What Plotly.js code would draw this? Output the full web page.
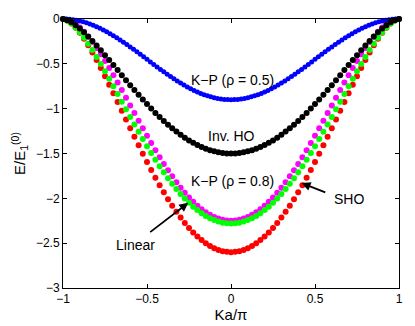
<!DOCTYPE html>
<html>
<head>
<meta charset="utf-8">
<script src="https://cdn.plot.ly/plotly-3.0.1.min.js"></script>
<style>html,body{margin:0;padding:0;background:#fff;}#chart{width:415px;height:326px;}</style>
</head>
<body>
<div id="chart"></div>
<script>
// x grid (Ka/pi)
var kaX = [-1,-0.975,-0.95,-0.925,-0.9,-0.875,-0.85,-0.825,-0.8,-0.775,-0.75,-0.725,-0.7,-0.675,-0.65,-0.625,-0.6,-0.575,-0.55,-0.525,-0.5,-0.475,-0.45,-0.425,-0.4,-0.375,-0.35,-0.325,-0.3,-0.275,-0.25,-0.225,-0.2,-0.175,-0.15,-0.125,-0.1,-0.075,-0.05,-0.025,0,0.025,0.05,0.075,0.1,0.125,0.15,0.175,0.2,0.225,0.25,0.275,0.3,0.325,0.35,0.375,0.4,0.425,0.45,0.475,0.5,0.525,0.55,0.575,0.6,0.625,0.65,0.675,0.7,0.725,0.75,0.775,0.8,0.825,0.85,0.875,0.9,0.925,0.95,0.975,1];
var kaXBlue = [-1,-0.98,-0.96,-0.94,-0.92,-0.9,-0.88,-0.86,-0.84,-0.82,-0.8,-0.78,-0.76,-0.74,-0.72,-0.7,-0.68,-0.66,-0.64,-0.62,-0.6,-0.58,-0.56,-0.54,-0.52,-0.5,-0.48,-0.46,-0.44,-0.42,-0.4,-0.38,-0.36,-0.34,-0.32,-0.3,-0.28,-0.26,-0.24,-0.22,-0.2,-0.18,-0.16,-0.14,-0.12,-0.1,-0.08,-0.06,-0.04,-0.02,0,0.02,0.04,0.06,0.08,0.1,0.12,0.14,0.16,0.18,0.2,0.22,0.24,0.26,0.28,0.3,0.32,0.34,0.36,0.38,0.4,0.42,0.44,0.46,0.48,0.5,0.52,0.54,0.56,0.58,0.6,0.62,0.64,0.66,0.68,0.7,0.72,0.74,0.76,0.78,0.8,0.82,0.84,0.86,0.88,0.9,0.92,0.94,0.96,0.98,1];

// K-P (rho = 0.5)
var kp05 = [0,-0.0009,-0.0035,-0.0080,-0.0141,-0.0220,-0.0316,-0.0428,-0.0557,-0.0701,-0.0859,-0.1033,-0.1220,-0.1420,-0.1632,-0.1855,-0.2089,-0.2332,-0.2584,-0.2843,-0.3109,-0.3381,-0.3657,-0.3936,-0.4217,-0.45,-0.4783,-0.5064,-0.5343,-0.5619,-0.5891,-0.6157,-0.6416,-0.6668,-0.6911,-0.7145,-0.7368,-0.7580,-0.7780,-0.7967,-0.8141,-0.8299,-0.8443,-0.8572,-0.8684,-0.8780,-0.8859,-0.8920,-0.8965,-0.8991,-0.9,-0.8991,-0.8965,-0.8920,-0.8859,-0.8780,-0.8684,-0.8572,-0.8443,-0.8299,-0.8141,-0.7967,-0.7780,-0.7580,-0.7368,-0.7145,-0.6911,-0.6668,-0.6416,-0.6157,-0.5891,-0.5619,-0.5343,-0.5064,-0.4783,-0.45,-0.4217,-0.3936,-0.3657,-0.3381,-0.3109,-0.2843,-0.2584,-0.2332,-0.2089,-0.1855,-0.1632,-0.1420,-0.1220,-0.1033,-0.0859,-0.0701,-0.0557,-0.0428,-0.0316,-0.0220,-0.0141,-0.0080,-0.0035,-0.0009,0];

// Inverted HO
var invHO = [0,-0.013,-0.037,-0.069,-0.107,-0.149,-0.195,-0.244,-0.296,-0.349,-0.403,-0.458,-0.514,-0.570,-0.627,-0.682,-0.738,-0.792,-0.846,-0.898,-0.949,-0.999,-1.047,-1.093,-1.137,-1.179,-1.219,-1.256,-1.291,-1.324,-1.354,-1.381,-1.406,-1.428,-1.447,-1.463,-1.476,-1.487,-1.494,-1.499,-1.5,-1.499,-1.494,-1.487,-1.476,-1.463,-1.447,-1.428,-1.406,-1.381,-1.354,-1.324,-1.291,-1.256,-1.219,-1.179,-1.137,-1.093,-1.047,-0.999,-0.949,-0.898,-0.846,-0.792,-0.738,-0.682,-0.627,-0.570,-0.514,-0.458,-0.403,-0.349,-0.296,-0.244,-0.195,-0.149,-0.107,-0.069,-0.037,-0.013,0];

// K-P (rho = 0.8)
var kp08 = [0,-0.016,-0.049,-0.094,-0.147,-0.208,-0.275,-0.347,-0.423,-0.501,-0.583,-0.666,-0.751,-0.836,-0.922,-1.007,-1.092,-1.176,-1.258,-1.339,-1.418,-1.495,-1.570,-1.641,-1.710,-1.776,-1.838,-1.896,-1.951,-2.003,-2.050,-2.093,-2.131,-2.166,-2.196,-2.222,-2.243,-2.259,-2.271,-2.278,-2.28,-2.278,-2.271,-2.259,-2.243,-2.222,-2.196,-2.166,-2.131,-2.093,-2.050,-2.003,-1.951,-1.896,-1.838,-1.776,-1.710,-1.641,-1.570,-1.495,-1.418,-1.339,-1.258,-1.176,-1.092,-1.007,-0.922,-0.836,-0.751,-0.666,-0.583,-0.501,-0.423,-0.347,-0.275,-0.208,-0.147,-0.094,-0.049,-0.016,0];

// Linear
var linear = [0,-0.007,-0.027,-0.057,-0.096,-0.143,-0.197,-0.257,-0.323,-0.393,-0.468,-0.546,-0.626,-0.709,-0.793,-0.878,-0.964,-1.049,-1.135,-1.219,-1.303,-1.384,-1.464,-1.541,-1.616,-1.687,-1.755,-1.820,-1.881,-1.938,-1.990,-2.039,-2.082,-2.121,-2.155,-2.184,-2.207,-2.226,-2.239,-2.247,-2.25,-2.247,-2.239,-2.226,-2.207,-2.184,-2.155,-2.121,-2.082,-2.039,-1.990,-1.938,-1.881,-1.820,-1.755,-1.687,-1.616,-1.541,-1.464,-1.384,-1.303,-1.219,-1.135,-1.049,-0.964,-0.878,-0.793,-0.709,-0.626,-0.546,-0.468,-0.393,-0.323,-0.257,-0.197,-0.143,-0.096,-0.057,-0.027,-0.007,0];

// SHO
var sho = [0,-0.016,-0.050,-0.097,-0.154,-0.221,-0.294,-0.373,-0.458,-0.546,-0.638,-0.732,-0.828,-0.925,-1.022,-1.120,-1.218,-1.314,-1.409,-1.503,-1.594,-1.683,-1.770,-1.853,-1.933,-2.010,-2.082,-2.151,-2.215,-2.275,-2.330,-2.380,-2.426,-2.466,-2.501,-2.531,-2.556,-2.575,-2.589,-2.597,-2.6,-2.597,-2.589,-2.575,-2.556,-2.531,-2.501,-2.466,-2.426,-2.380,-2.330,-2.275,-2.215,-2.151,-2.082,-2.010,-1.933,-1.853,-1.770,-1.683,-1.594,-1.503,-1.409,-1.314,-1.218,-1.120,-1.022,-0.925,-0.828,-0.732,-0.638,-0.546,-0.458,-0.373,-0.294,-0.221,-0.154,-0.097,-0.050,-0.016,0];

var xTicks = [-1,-0.5,0,0.5,1];
var xTickText = ['\u22121','\u22120.5','0','0.5','1'];
var yTicks = [-3,-2.5,-2,-1.5,-1,-0.5,0];
var yTickText = ['\u22123','\u22122.5','\u22122','\u22121.5','\u22121','\u22120.5','0'];

function series(x, y, color, size) {
  return {x: x, y: y, type: 'scatter', mode: 'markers', cliponaxis: false,
    marker: {color: color, size: size, line: {width: 0}}, showlegend: false, hoverinfo: 'skip'};
}
var data = [
  series(kaX, sho, '#ff0000', 6),
  series(kaX, linear, '#ff00ff', 6),
  series(kaX, kp08, '#00ff00', 6),
  series(kaXBlue, kp05, '#0000ff', 5),
  series(kaX, invHO, '#000000', 6)
];

var fam = 'Liberation Sans, Arial, sans-serif';
var font = {family: fam, size: 12, color: '#000'};
var annFont = {family: fam, size: 14, color: '#000'};
var axisCommon = {showgrid: false, zeroline: false, showline: true, linecolor: '#000', linewidth: 1,
  mirror: 'ticks', ticks: 'inside', ticklen: 4, tickwidth: 1, tickcolor: '#000', tickfont: font};

var layout = {
  width: 415, height: 326,
  margin: {l: 63, r: 16, t: 19, b: 38},
  paper_bgcolor: '#fff', plot_bgcolor: '#fff',
  font: font,
  xaxis: Object.assign({}, axisCommon, {range: [-1, 1], tickvals: xTicks, ticktext: xTickText,
    title: {text: 'Ka/\u03c0', font: {family: fam, size: 15, color: '#000'}, standoff: 1}}),
  yaxis: Object.assign({}, axisCommon, {range: [-3, 0], tickvals: yTicks, ticktext: yTickText,
    title: {text: 'E/E<sub>1</sub><sup>(0)</sup>', font: {family: fam, size: 15, color: '#000'}, standoff: 6}}),
  annotations: [
    {x: 0.01, y: -0.68, xref: 'x', yref: 'y', text: 'K\u2212P (\u03c1 = 0.5)', showarrow: false, font: annFont},
    {x: 0.0, y: -1.30, xref: 'x', yref: 'y', text: 'Inv. HO', showarrow: false, font: annFont},
    {x: 0.01, y: -1.81, xref: 'x', yref: 'y', text: 'K\u2212P (\u03c1 = 0.8)', showarrow: false, font: annFont},
    {x: -0.57, y: -2.52, xref: 'x', yref: 'y', text: 'Linear', showarrow: false, font: annFont},
    {x: 0.70, y: -2.01, xref: 'x', yref: 'y', text: 'SHO', showarrow: false, font: annFont},
    {x: -0.254, y: -2.05, ax: -0.49, ay: -2.39, xref: 'x', yref: 'y', axref: 'x', ayref: 'y', text: '', showarrow: true, arrowhead: 2, arrowsize: 1, arrowwidth: 1.8, arrowcolor: '#000'},
    {x: 0.42, y: -1.83, ax: 0.57, ay: -1.94, xref: 'x', yref: 'y', axref: 'x', ayref: 'y', text: '', showarrow: true, arrowhead: 2, arrowsize: 1, arrowwidth: 1.8, arrowcolor: '#000'}
  ]
};
Plotly.newPlot('chart', data, layout, {displayModeBar: false, staticPlot: true});
</script>
</body>
</html>
